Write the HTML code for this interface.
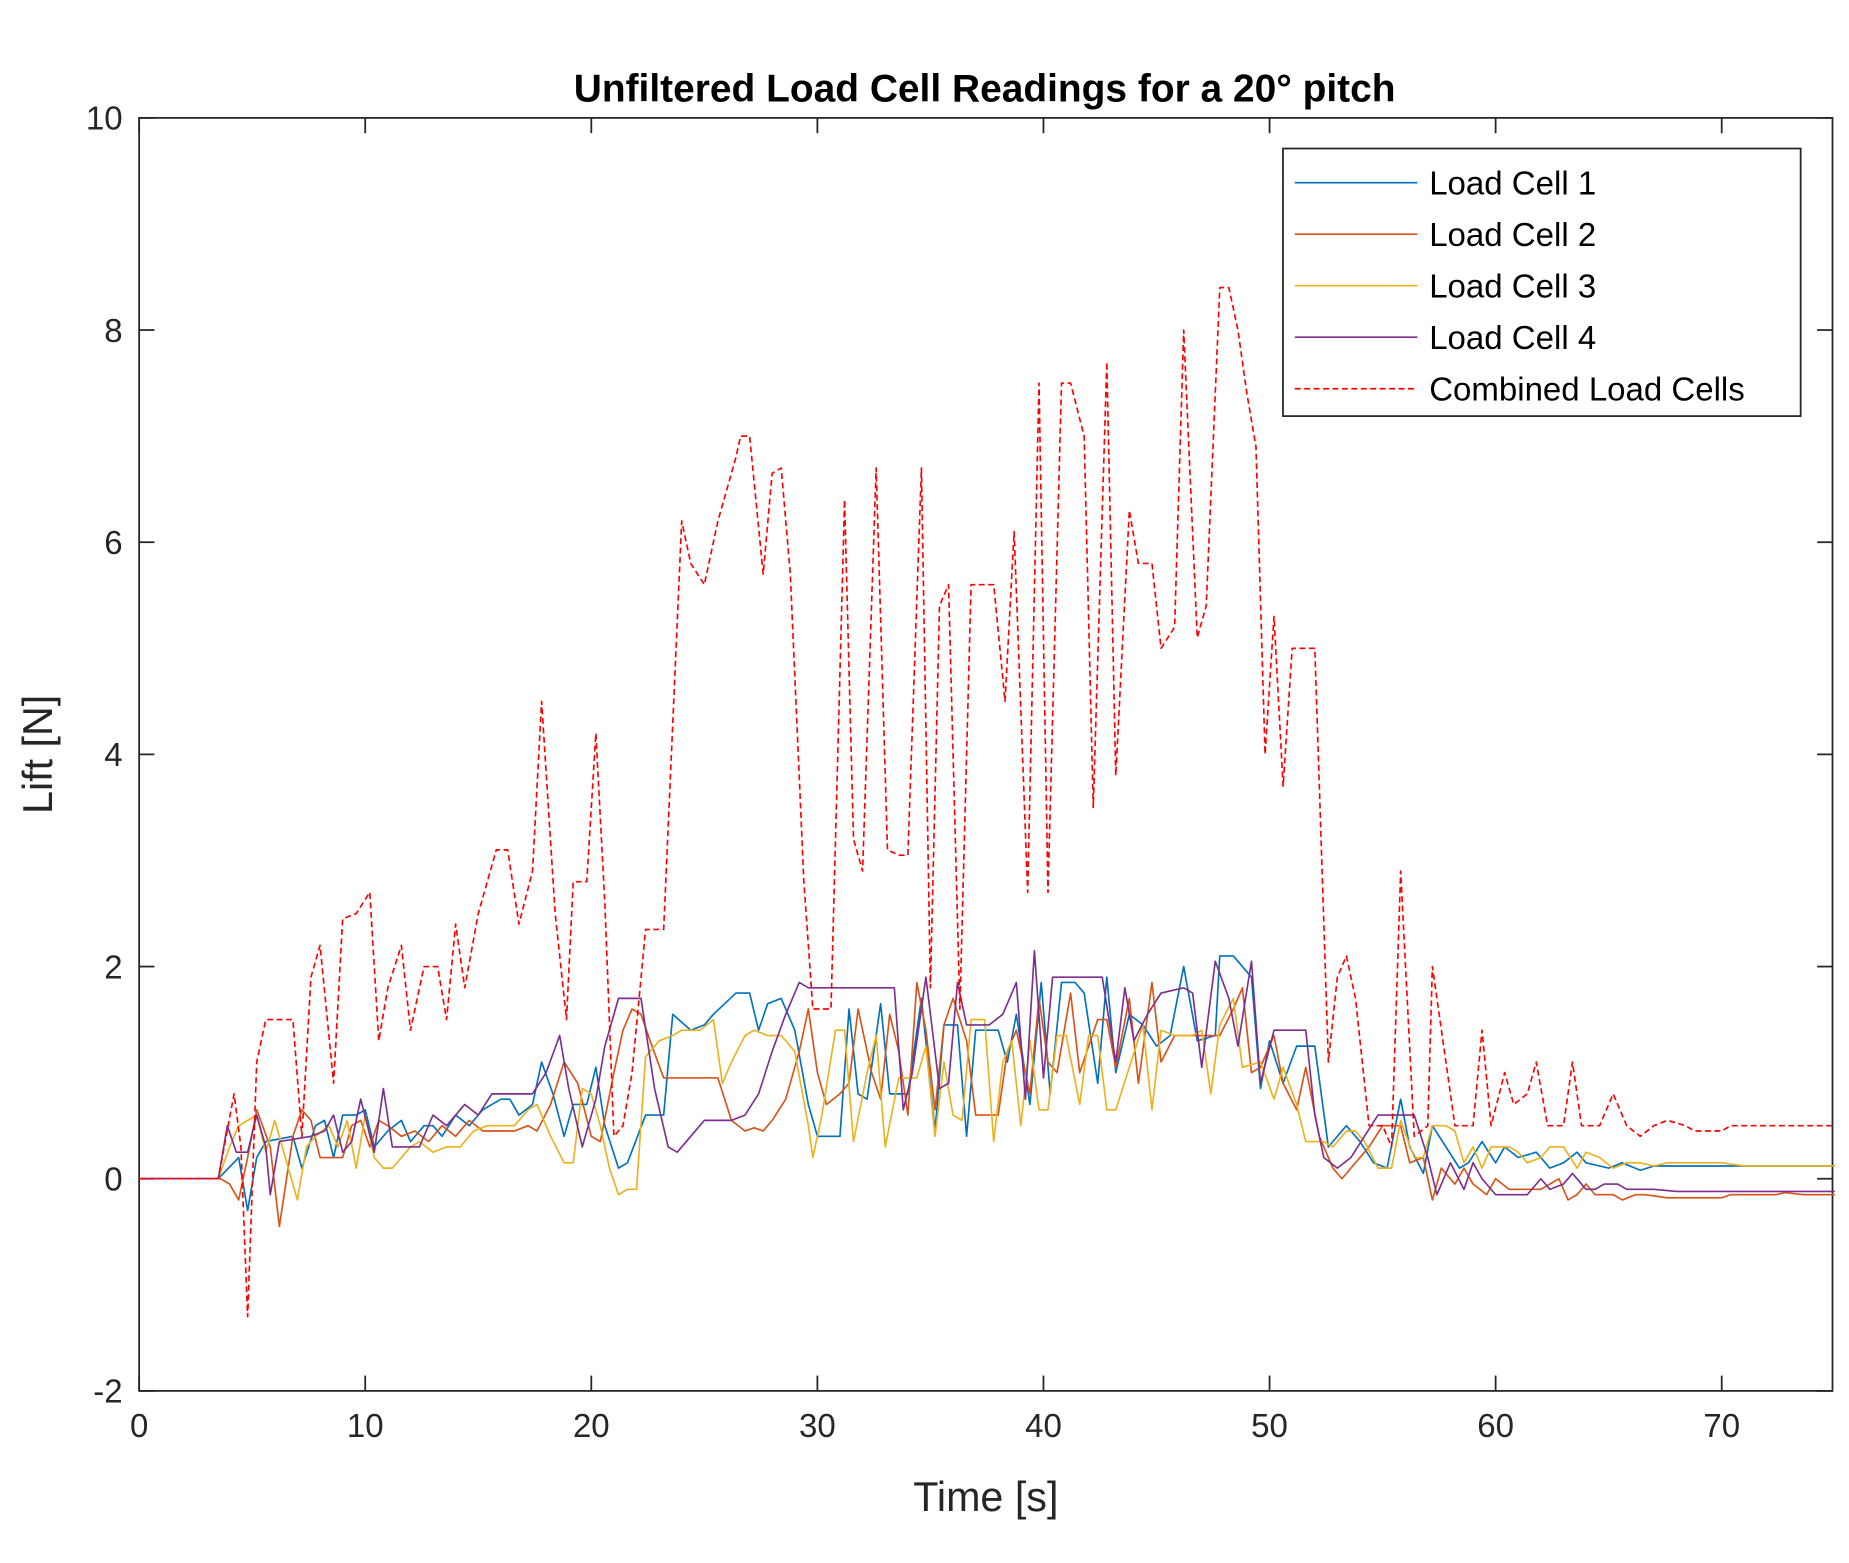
<!DOCTYPE html>
<html><head><meta charset="utf-8"><style>html,body{margin:0;padding:0;background:#fff}svg{display:block}</style></head>
<body>
<svg id="chart" width="1849" height="1563" viewBox="0 0 1568 1326" preserveAspectRatio="none" xmlns="http://www.w3.org/2000/svg" font-family="Liberation Sans, Arial, sans-serif">
<rect width="1568" height="1326" fill="#fff"/>
<text x="835" y="86" text-anchor="middle" font-size="33" font-weight="bold" fill="#000">Unfiltered Load Cell Readings for a 20° pitch</text>
<g id="axes"></g>
<g id="series"></g>
<g id="legend">
<rect x="1088" y="126" width="439" height="227" fill="#fff" stroke="#262626" stroke-width="1.5"/>
</g>
<text x="836" y="1282" text-anchor="middle" font-size="35" fill="#262626">Time [s]</text>
<text transform="translate(44,640) rotate(-90)" text-anchor="middle" font-size="35" fill="#262626">Lift [N]</text>
</svg>
<script>
const xTicks=[0,10,20,30,40,50,60,70];
const yTicks=[-2,0,2,4,6,8,10];
const names=["Load Cell 1","Load Cell 2","Load Cell 3","Load Cell 4","Combined Load Cells"];
const colors=["#0072BD","#D95319","#EDB120","#7E2F8E","#FF0000"];
const lc1=[[0,0],[3.5,0],[4.4,0.2],[4.8,-0.3],[5.2,0.2],[5.6,0.35],[6.8,0.4],[7.2,0.1],[7.8,0.5],[8.2,0.55],[8.6,0.2],[9,0.6],[9.6,0.6],[10,0.65],[10.4,0.3],[11,0.45],[11.6,0.55],[12,0.35],[12.6,0.5],[13,0.5],[13.4,0.4],[14,0.6],[14.6,0.5],[15.2,0.65],[16,0.75],[16.4,0.75],[16.8,0.6],[17.4,0.7],[17.8,1.1],[18.3,0.8],[18.8,0.4],[19.2,0.7],[19.8,0.7],[20.2,1.05],[20.6,0.5],[21.2,0.1],[21.6,0.15],[22.4,0.6],[23.2,0.6],[23.6,1.55],[24.4,1.4],[25,1.45],[25.4,1.55],[26.4,1.75],[27,1.75],[27.4,1.4],[27.8,1.65],[28.4,1.7],[29,1.4],[29.6,0.7],[30,0.4],[31,0.4],[31.4,1.6],[31.8,0.8],[32.2,0.75],[32.8,1.65],[33.2,0.8],[34,0.8],[34.6,1.7],[35.2,0.45],[35.6,1.45],[36.2,1.45],[36.6,0.4],[37,1.4],[38,1.4],[38.4,1.1],[38.8,1.55],[39.4,0.7],[39.9,1.85],[40.3,0.8],[40.8,1.85],[41.4,1.85],[41.8,1.75],[42.4,0.9],[42.8,1.9],[43.2,1.0],[43.8,1.55],[44.4,1.45],[45,1.25],[45.6,1.35],[46.2,2.0],[46.8,1.3],[47.6,1.35],[47.8,2.1],[48.4,2.1],[49.2,1.9],[49.6,0.85],[50,1.3],[50.6,0.9],[51.2,1.25],[52,1.25],[52.6,0.3],[53.4,0.5],[54,0.35],[54.6,0.15],[55.2,0.1],[55.8,0.75],[56.2,0.3],[56.8,0.05],[57.2,0.5],[57.8,0.3],[58.4,0.1],[58.8,0.15],[59.4,0.35],[60,0.15],[60.4,0.3],[61,0.2],[61.8,0.25],[62.4,0.1],[63,0.15],[63.6,0.25],[64,0.15],[65,0.1],[65.6,0.15],[66.4,0.08],[67,0.12],[68,0.12],[75,0.12]];
const lc2=[[0,0],[3.6,0],[4,-0.05],[4.4,-0.2],[4.8,0.2],[5.2,0.65],[5.8,0.3],[6.2,-0.45],[6.8,0.4],[7.2,0.65],[7.6,0.55],[8,0.2],[9,0.2],[9.4,0.5],[9.8,0.55],[10.2,0.3],[10.6,0.55],[11,0.5],[11.6,0.4],[12.2,0.45],[12.8,0.35],[13.4,0.5],[14,0.4],[14.6,0.55],[15.2,0.45],[16.6,0.45],[17.2,0.5],[17.6,0.45],[18.2,0.7],[18.8,1.1],[19.4,0.9],[20,0.4],[20.4,0.35],[21,1.0],[21.4,1.4],[21.8,1.6],[22.2,1.55],[22.6,1.3],[23.2,0.95],[25.6,0.95],[26.2,0.55],[26.8,0.45],[27.2,0.48],[27.6,0.45],[28,0.55],[28.6,0.75],[29.2,1.2],[29.6,1.6],[30,1.0],[30.4,0.7],[31,0.8],[31.4,0.9],[31.8,1.6],[32.4,1.0],[32.8,0.75],[33.2,1.55],[33.6,1.2],[34,0.6],[34.4,1.85],[34.8,1.4],[35.2,0.65],[35.6,1.45],[36,1.7],[36.6,1.3],[37,0.6],[38,0.6],[38.4,1.2],[38.8,1.4],[39.4,0.8],[39.8,1.7],[40.2,1.1],[40.6,1.0],[41.2,1.75],[41.6,1.0],[42.4,1.5],[42.8,1.5],[43.2,1.05],[43.8,1.7],[44.2,0.9],[44.8,1.85],[45.2,1.1],[45.8,1.35],[46.6,1.35],[47.2,1.35],[47.8,1.35],[48.4,1.6],[48.8,1.8],[49.2,1.0],[49.6,1.05],[50.2,1.35],[50.6,0.9],[51.2,0.65],[51.6,1.05],[52.2,0.4],[52.8,0.1],[53.2,0.0],[53.6,0.1],[54.4,0.3],[55,0.5],[55.8,0.5],[56.2,0.15],[56.8,0.2],[57.2,-0.2],[57.6,0.1],[58.2,-0.05],[58.6,0.1],[59,-0.05],[59.6,-0.15],[60,0.0],[60.6,-0.1],[62,-0.1],[62.8,0.0],[63.2,-0.2],[63.6,-0.15],[64,-0.05],[64.4,-0.15],[65.2,-0.15],[65.6,-0.2],[66.2,-0.15],[66.6,-0.15],[67.6,-0.18],[70,-0.18],[70.4,-0.15],[72.4,-0.15],[72.8,-0.13],[73.6,-0.15],[75,-0.15]];
const lc3=[[0,0],[3.5,0],[4,0.3],[4.4,0.5],[4.8,0.55],[5.2,0.6],[5.6,0.25],[6,0.55],[6.6,0.1],[7,-0.2],[7.4,0.3],[7.8,0.4],[8.4,0.5],[8.8,0.3],[9.2,0.55],[9.6,0.1],[10,0.6],[10.4,0.2],[10.8,0.1],[11.2,0.1],[12,0.3],[12.4,0.35],[13,0.25],[13.6,0.3],[14.2,0.3],[14.8,0.45],[15.4,0.5],[16.6,0.5],[17.2,0.65],[17.6,0.7],[18.2,0.4],[18.8,0.15],[19.2,0.15],[19.6,0.85],[20,0.8],[20.4,0.5],[20.8,0.1],[21.2,-0.15],[21.6,-0.1],[22,-0.1],[22.4,1.15],[23,1.3],[23.6,1.35],[24,1.4],[24.8,1.4],[25.4,1.5],[25.8,0.9],[26.2,1.1],[26.8,1.35],[27.2,1.4],[27.8,1.35],[28.4,1.35],[29,1.2],[29.6,0.5],[29.8,0.2],[30.2,0.6],[30.8,1.4],[31.2,1.4],[31.6,0.35],[32.2,1.0],[32.6,1.35],[33,0.3],[33.6,0.95],[34.4,0.95],[34.8,1.25],[35.2,0.4],[35.6,1.1],[36,0.6],[36.4,0.55],[36.8,1.5],[37.4,1.5],[37.8,0.35],[38.2,1.1],[38.6,1.3],[39,0.5],[39.4,1.3],[39.8,0.65],[40.2,0.65],[40.6,1.35],[41,1.35],[41.6,0.7],[42,1.35],[42.4,1.35],[42.8,0.65],[43.2,0.65],[43.8,1.05],[44.4,1.45],[44.8,0.65],[45.2,1.4],[45.8,1.35],[46.6,1.35],[47,1.4],[47.4,0.8],[47.8,1.45],[48.4,1.7],[48.8,1.05],[49.6,1.1],[50.2,0.75],[50.6,1.05],[51.2,0.7],[51.6,0.35],[52.4,0.35],[52.8,0.3],[53.4,0.45],[53.8,0.45],[54.2,0.35],[54.8,0.1],[55.4,0.1],[55.8,0.55],[56.4,0.2],[56.8,0.2],[57.2,0.5],[57.8,0.5],[58.2,0.45],[58.6,0.15],[59,0.3],[59.4,0.1],[59.8,0.3],[60.6,0.3],[61,0.25],[61.4,0.15],[62,0.2],[62.4,0.3],[63,0.3],[63.6,0.1],[64,0.25],[64.6,0.2],[65.2,0.1],[65.8,0.15],[66.4,0.15],[67,0.12],[67.6,0.15],[70,0.15],[71,0.12],[75,0.12]];
const lc4=[[0,0],[3.5,0],[3.9,0.5],[4.3,0.25],[4.8,0.25],[5.2,0.6],[5.6,0.3],[5.8,-0.15],[6.2,0.35],[7.6,0.4],[8.2,0.45],[8.6,0.6],[9,0.25],[9.4,0.35],[9.8,0.75],[10.4,0.25],[10.8,0.85],[11.2,0.3],[12.4,0.3],[13,0.6],[13.6,0.5],[14.4,0.7],[15,0.6],[15.6,0.8],[17.4,0.8],[18,1.0],[18.6,1.35],[19,0.85],[19.6,0.3],[20.2,0.75],[20.6,1.25],[21.2,1.7],[22.2,1.7],[22.8,0.85],[23.4,0.3],[23.8,0.25],[24.4,0.4],[25,0.55],[26.2,0.55],[26.8,0.6],[27.4,0.8],[28,1.2],[28.6,1.55],[29.2,1.85],[29.6,1.8],[32.2,1.8],[33.4,1.8],[33.8,0.65],[34.2,1.0],[34.8,1.9],[35.4,0.85],[35.8,0.9],[36.2,1.85],[36.6,1.45],[37.6,1.45],[38.2,1.55],[38.8,1.85],[39.2,0.75],[39.6,2.15],[40,0.95],[40.4,1.9],[41.8,1.9],[42.6,1.9],[43.2,1.1],[43.6,1.8],[44,1.3],[44.6,1.55],[45.2,1.75],[46.2,1.8],[46.6,1.75],[47,1.05],[47.6,2.05],[48.2,1.7],[48.6,1.25],[49.2,2.05],[49.6,0.9],[50.2,1.4],[51.6,1.4],[52,0.6],[52.4,0.2],[53,0.1],[53.6,0.2],[54.2,0.4],[54.8,0.6],[56.4,0.6],[57,0.2],[57.4,-0.15],[58,0.15],[58.6,-0.1],[59,0.15],[59.4,0.0],[60,-0.15],[61.4,-0.15],[62,0.0],[62.4,-0.1],[63,-0.05],[63.4,0.05],[64,-0.1],[64.4,-0.1],[64.8,-0.05],[65.4,-0.05],[65.8,-0.1],[67,-0.1],[68,-0.12],[70,-0.12],[75,-0.12]];
const combined=[[0,0],[3.5,0],[4.2,0.8],[4.5,0.3],[4.8,-1.3],[5.2,1.1],[5.6,1.5],[6,1.5],[6.8,1.5],[7.2,0.4],[7.6,1.9],[8,2.2],[8.6,0.9],[9,2.45],[9.6,2.5],[10.2,2.7],[10.6,1.3],[11,1.8],[11.6,2.2],[12,1.4],[12.6,2.0],[13.2,2.0],[13.6,1.5],[14,2.4],[14.4,1.8],[15,2.5],[15.8,3.1],[16.3,3.1],[16.8,2.4],[17.4,2.9],[17.8,4.5],[18.4,2.5],[18.9,1.5],[19.2,2.8],[19.8,2.8],[20.2,4.2],[20.6,2.6],[21,0.4],[21.4,0.5],[21.8,1.0],[22.4,2.35],[23.2,2.35],[24,6.2],[24.4,5.8],[25,5.6],[25.6,6.2],[26.4,6.8],[26.6,7.0],[27,7.0],[27.6,5.7],[28,6.65],[28.4,6.7],[28.8,5.7],[29.4,2.8],[29.8,1.6],[30.6,1.6],[31.2,6.4],[31.6,3.2],[32,2.9],[32.6,6.7],[33.1,3.1],[33.6,3.05],[34,3.05],[34.6,6.7],[35,1.8],[35.4,5.4],[35.8,5.6],[36.3,1.6],[36.8,5.6],[37.8,5.6],[38.3,4.5],[38.7,6.1],[39.3,2.7],[39.8,7.5],[40.2,2.7],[40.8,7.5],[41.2,7.5],[41.8,7.0],[42.2,3.5],[42.8,7.7],[43.2,3.8],[43.8,6.3],[44.2,5.8],[44.8,5.8],[45.2,5.0],[45.8,5.2],[46.2,8.0],[46.8,5.1],[47.2,5.4],[47.8,8.4],[48.2,8.4],[48.6,8.0],[49,7.4],[49.4,6.9],[49.8,4.0],[50.2,5.3],[50.6,3.7],[51,5.0],[52,5.0],[52.6,1.1],[53,1.9],[53.4,2.1],[53.8,1.7],[54.4,0.5],[55,0.5],[55.4,0.3],[55.8,2.9],[56.4,0.4],[57,0.5],[57.2,2.0],[57.8,1.1],[58.2,0.5],[59,0.5],[59.4,1.4],[59.8,0.5],[60.4,1.0],[60.8,0.7],[61.4,0.8],[61.8,1.1],[62.3,0.5],[63,0.5],[63.4,1.1],[63.8,0.5],[64.6,0.5],[65.2,0.8],[65.8,0.5],[66.4,0.4],[67,0.5],[67.6,0.55],[68.4,0.5],[68.8,0.45],[70,0.45],[70.4,0.5],[75,0.5]];
const allSeries=[lc1,lc2,lc3,lc4,combined];
const L=118,R=1554,T=100,B=1180,XMIN=0,XMAX=74.9,YMIN=-2,YMAX=10;
function xs(t){return L+(t-XMIN)/(XMAX-XMIN)*(R-L);}
function ys(v){return B-(v-YMIN)/(YMAX-YMIN)*(B-T);}
const NS="http://www.w3.org/2000/svg";
function mk(tag,attrs,parent){const e=document.createElementNS(NS,tag);for(const k in attrs)e.setAttribute(k,attrs[k]);parent.appendChild(e);return e;}
const axes=document.getElementById('axes');
const frame=mk('rect',{x:L,y:T,width:R-L,height:B-T,fill:'none',stroke:'#262626','stroke-width':1.5},axes);


xTicks.forEach(t=>{const x=xs(t);
 mk('line',{x1:x,y1:B,x2:x,y2:B-13,stroke:'#262626','stroke-width':1.5},axes);
 mk('line',{x1:x,y1:T,x2:x,y2:T+13,stroke:'#262626','stroke-width':1.5},axes);
 const tx=mk('text',{x:x,y:B+39,'text-anchor':'middle','font-size':28,fill:'#262626'},axes);tx.textContent=t;
 
 
});
yTicks.forEach(v=>{const y=ys(v);
 mk('line',{x1:L,y1:y,x2:L+13,y2:y,stroke:'#262626','stroke-width':1.5},axes);
 mk('line',{x1:R,y1:y,x2:R-13,y2:y,stroke:'#262626','stroke-width':1.5},axes);
 const tx=mk('text',{x:L-14,y:y+10,'text-anchor':'end','font-size':28,fill:'#262626'},axes);tx.textContent=v;
 
 
});
const sg=document.getElementById('series');
const snames=['load-cell-1-line','load-cell-2-line','load-cell-3-line','load-cell-4-line','combined-line'];
allSeries.forEach((s,i)=>{
 const d=s.map((p,j)=>(j?'L':'M')+xs(p[0]).toFixed(1)+','+ys(p[1]).toFixed(1)).join(' ');
 const a={d:d,fill:'none',stroke:colors[i],'stroke-width':1.4,'stroke-linejoin':'round'};
 if(i===4)a['stroke-dasharray']='5,3';
 const p=mk('path',a,sg);
 
 
});
const lg=document.getElementById('legend');
names.forEach((n,i)=>{const y=155+i*43.7;
 const a={x1:1098,y1:y,x2:1202,y2:y,stroke:colors[i],'stroke-width':1.4};
 if(i===4)a['stroke-dasharray']='5,3';
 mk('line',a,lg);
 const tx=mk('text',{x:1212,y:y+10,'font-size':28,fill:'#000'},lg);tx.textContent=n;
 
 
});
</script>
</body></html>
